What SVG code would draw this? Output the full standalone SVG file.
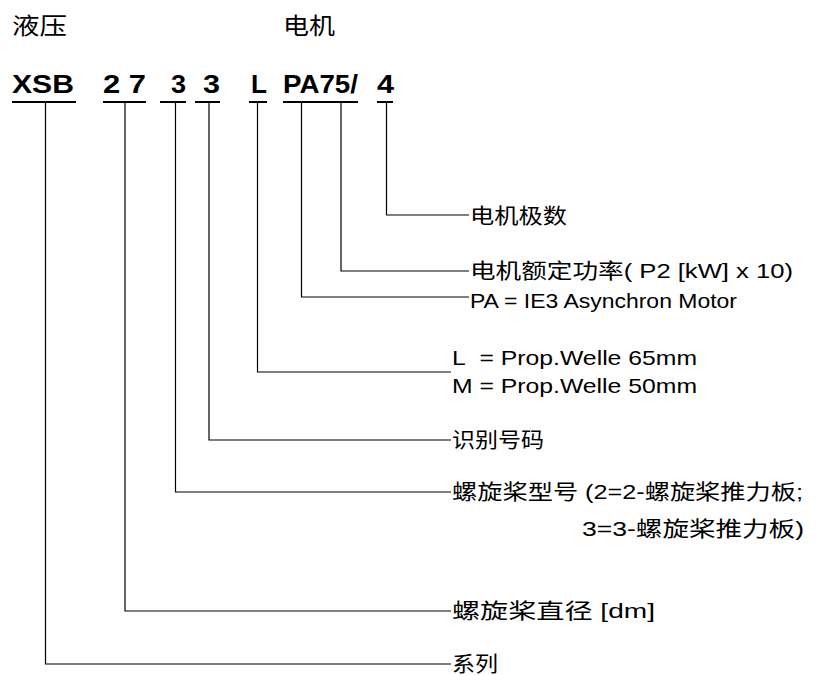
<svg xmlns="http://www.w3.org/2000/svg" width="834" height="675" viewBox="0 0 834 675">
<style>
.hd{font-family:"Liberation Sans","Noto Sans CJK SC",sans-serif;font-size:23px;fill:#000}
.code{font-family:"Liberation Sans",Arial,sans-serif;font-size:26px;font-weight:bold;fill:#000}
.lb{font-family:"Liberation Sans","Noto Sans CJK SC",sans-serif;font-size:21px;fill:#000}
.ul{stroke:#000;stroke-width:2;fill:none}
.cn{stroke:#000;stroke-width:1.2;fill:none}
</style>
<rect width="834" height="675" fill="#fff"/>
<g id="header">
<text class="hd" x="12" y="34" textLength="55" lengthAdjust="spacingAndGlyphs">液压</text>
<text class="hd" x="283" y="34" textLength="52" lengthAdjust="spacingAndGlyphs">电机</text>
</g>
<g id="code">
<text class="code" x="12" y="93" textLength="62" lengthAdjust="spacingAndGlyphs">XSB</text>
<text class="code" x="103" y="93" textLength="43" lengthAdjust="spacingAndGlyphs">2 7</text>
<text class="code" x="171" y="93" textLength="15" lengthAdjust="spacingAndGlyphs">3</text>
<text class="code" x="203" y="93" textLength="17" lengthAdjust="spacingAndGlyphs">3</text>
<text class="code" x="251" y="93" textLength="16" lengthAdjust="spacingAndGlyphs">L</text>
<text class="code" x="283" y="93" textLength="75" lengthAdjust="spacingAndGlyphs">PA75/</text>
<text class="code" x="377" y="93" textLength="17" lengthAdjust="spacingAndGlyphs">4</text>
<line class="ul" x1="12" y1="102" x2="76" y2="102"/>
<line class="ul" x1="103" y1="102" x2="146" y2="102"/>
<line class="ul" x1="160" y1="102" x2="186" y2="102"/>
<line class="ul" x1="195" y1="102" x2="220" y2="102"/>
<line class="ul" x1="249" y1="102" x2="267" y2="102"/>
<line class="ul" x1="283" y1="102" x2="358" y2="102"/>
<line class="ul" x1="377" y1="102" x2="393" y2="102"/>
</g>
<g id="connectors">
<polyline class="cn" points="386.5,103 386.5,215 469,215"/>
<polyline class="cn" points="341,103 341,271 469,271"/>
<polyline class="cn" points="301.5,103 301.5,297 469,297"/>
<polyline class="cn" points="257.5,103 257.5,372 451,372"/>
<polyline class="cn" points="209,103 209,440 451,440"/>
<polyline class="cn" points="175.5,103 175.5,492 451,492"/>
<polyline class="cn" points="125,103 125,611 451,611"/>
<polyline class="cn" points="45.5,103 45.5,664 451,664"/>
</g>
<g id="label-poles"><text class="lb" x="470" y="223" textLength="97" lengthAdjust="spacingAndGlyphs">电机极数</text></g>
<g id="label-power"><text class="lb" x="470" y="278" textLength="323" lengthAdjust="spacingAndGlyphs">电机额定功率( P2 [kW] x 10)</text></g>
<g id="label-pa"><text class="lb" x="470" y="308" textLength="267" lengthAdjust="spacingAndGlyphs">PA = IE3 Asynchron Motor</text></g>
<g id="label-shaft">
<text class="lb" x="452" y="365" textLength="245" lengthAdjust="spacingAndGlyphs">L&#160; = Prop.Welle 65mm</text>
<text class="lb" x="452" y="393" textLength="245" lengthAdjust="spacingAndGlyphs">M = Prop.Welle 50mm</text>
</g>
<g id="label-id"><text class="lb" x="452" y="447" textLength="92" lengthAdjust="spacingAndGlyphs">识别号码</text></g>
<g id="label-prop-type">
<text class="lb" x="452" y="499" textLength="351" lengthAdjust="spacingAndGlyphs">螺旋桨型号 (2=2-螺旋桨推力板;</text>
<text class="lb" x="582" y="536" textLength="222" lengthAdjust="spacingAndGlyphs">3=3-螺旋桨推力板)</text>
</g>
<g id="label-diameter"><text class="lb" x="452" y="618" textLength="203" lengthAdjust="spacingAndGlyphs">螺旋桨直径 [dm]</text></g>
<g id="label-series"><text class="lb" x="452" y="671" textLength="46" lengthAdjust="spacingAndGlyphs">系列</text></g>
</svg>
